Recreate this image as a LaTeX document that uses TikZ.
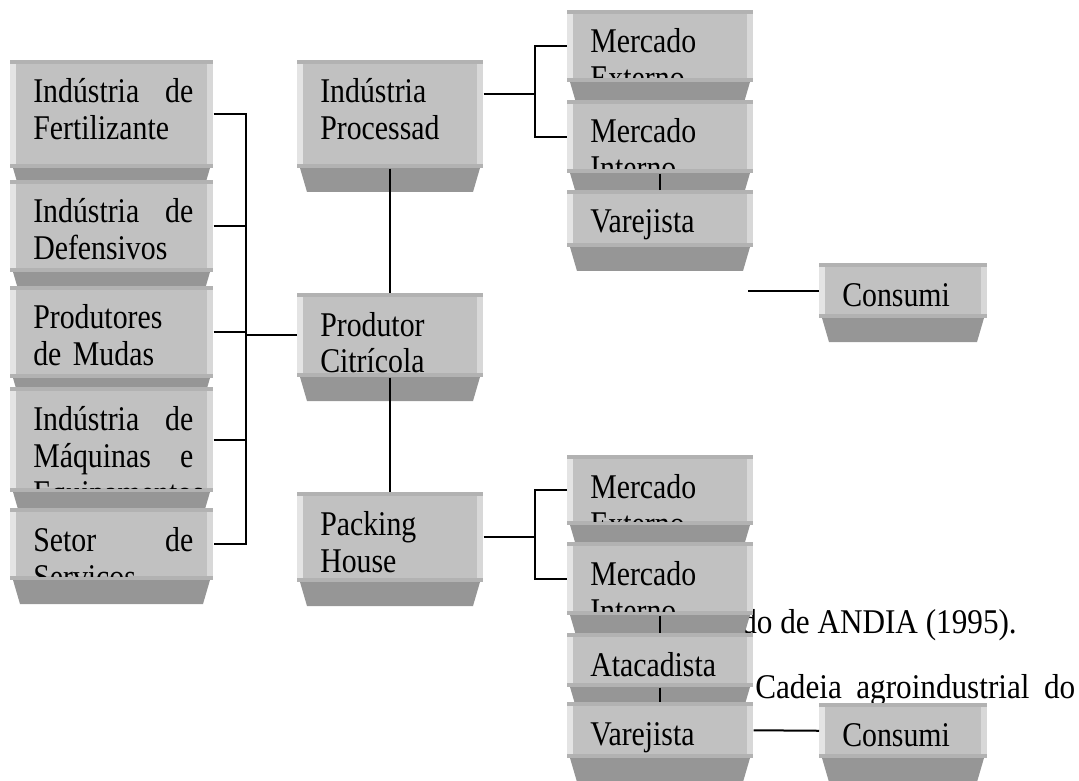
\documentclass[tikz,border=0pt]{standalone}
\usepackage{fontspec}
\setmainfont[FakeStretch=0.86]{Liberation Serif}
\newfontfamily\captfont[FakeStretch=0.9]{Liberation Serif}
\usetikzlibrary{calc}
\definecolor{facec}{RGB}{193,193,193}
\definecolor{shadec}{RGB}{150,150,150}
\definecolor{rimc}{RGB}{178,178,178}
\definecolor{litec}{RGB}{228,228,228}
\definecolor{midc}{RGB}{216,216,216}
\tikzset{
  boxtxt/.style={inner sep=0pt, anchor=base west, align=left, text width=#1,
                 font=\fontsize{26pt}{27.75pt}\selectfont},
  capt/.style={inner sep=0pt, anchor=base west,
               font=\captfont\fontsize{26pt}{27.75pt}\selectfont},
  lnk/.style={line width=1.5pt},
}
% box: name, x, y, width, face height, text (pixel units)
\newcommand{\citbox}[6]{%
  \pgfmathsetlengthmacro\bxtw{(#4-43)*0.75pt}%
  \pgfmathsetlengthmacro\bxw{#4*0.75pt}%
  \pgfmathsetlengthmacro\bxh{#5*0.75pt}%
  \fill[shadec] (#2+3,#3+#5) -- (#2+#4-3,#3+#5) -- (#2+#4-10,#3+#5+24)
    -- (#2+10,#3+#5+24) -- cycle;
  \fill[rimc] (#2,#3) rectangle (#2+#4,#3+#5);
  \fill[litec] (#2,#3+4) rectangle (#2+6,#3+#5-4);
  \fill[midc] (#2+#4-6,#3+4) rectangle (#2+#4,#3+#5-4);
  \fill[facec] (#2+6,#3+4) rectangle (#2+#4-6,#3+#5-4);
  \begin{scope}
    \clip (#2+6,#3+4) rectangle (#2+#4-6,#3+#5-4);
    \node[boxtxt=\bxtw] at (#2+23,#3+43) {#6};
  \end{scope}
  \node[inner sep=0pt, minimum width=\bxw, minimum height=\bxh,
        anchor=north west] (#1) at (#2,#3) {};
}

\begin{document}
\begin{tikzpicture}[x=0.75pt, y=-0.75pt]
  \useasboundingbox (0,0) rectangle (1079,781);

  % caption text, partly under the boxes
  \node[capt] (src) at (741,633) {do de ANDIA (1995).};
  \node[capt] (cap) at (755,698) {\makebox[240pt][s]{Cadeia agroindustrial do}};

  % input suppliers
  \citbox{fert}{10}{60}{203}{108}{Indústria\hfill de\\Fertilizante}
  \citbox{def}{10}{180}{203}{92}{Indústria\hfill de\\Defensivos}
  \citbox{mudas}{10}{286}{203}{92}{Produtores\\de Mudas}
  \citbox{maq}{10}{387}{203}{105}{Indústria\hfill de\\Máquinas\hfill e\\Equipamentos}
  \citbox{serv}{10}{508}{203}{72}{Setor\hfill de\\Serviços}

  % middle column
  \citbox{ind}{297}{60}{186}{108}{Indústria\\Processad}
  \citbox{prod}{297}{293}{186}{84}{Produtor\\Citrícola}
  \citbox{pack}{297}{492}{186}{90}{Packing\\House}

  % juice branch
  \citbox{mext1}{567}{10}{186}{72}{Mercado\\Externo}
  \citbox{mint1}{567}{100}{186}{73}{Mercado\\Interno}
  \citbox{var1}{567}{190}{186}{57}{Varejista}
  \citbox{cons1}{819}{263}{168}{55}{Consumi}

  % fresh fruit branch
  \citbox{mext2}{567}{455}{186}{70}{Mercado\\Externo}
  \citbox{mint2}{567}{542}{186}{73}{Mercado\\Interno}
  \citbox{atac}{567}{633}{186}{54}{Atacadista}
  \citbox{var2}{567}{702}{186}{56}{Varejista}
  \citbox{cons2}{819}{703}{168}{55}{Consumi}

  % connectors
  \draw[lnk] (fert.east) -- ++(32,0) |- (serv.east);
  \foreach \b in {def,mudas,maq} {
    \draw[lnk] (\b.east) -- ++(32,0);
  }
  \draw[lnk] (prod.west) -- ++(-52,0);
  \draw[lnk] (ind.south) -- (prod.north);
  \draw[lnk] (prod.south) -- (pack.north);

  \draw[lnk] ($(ind.east)+(0,-20)$) -- ++(52,0);
  \draw[lnk] (mext1.west) -- ++(-32,0) |- (mint1.west);
  \draw[lnk] (mint1.south) -- (var1.north);
  \draw[lnk] (cons1.west) -- ++(-71,0);

  \draw[lnk] (pack.east) -- ++(52,0);
  \draw[lnk] (mext2.west) -- ++(-32,0) |- (mint2.west);
  \draw[lnk] (mint2.south) -- (atac.north);
  \draw[lnk] (atac.south) -- (var2.north);
  \draw[lnk] (var2.east) -- (cons2.west);
\end{tikzpicture}
\end{document}
